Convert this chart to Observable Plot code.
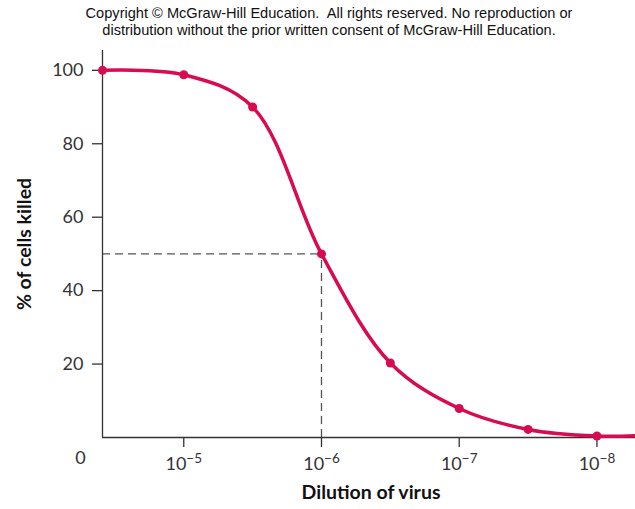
<!DOCTYPE html>
<html>
<head>
<meta charset="utf-8">
<script src="https://cdn.jsdelivr.net/npm/d3@7"></script>
<script src="https://cdn.jsdelivr.net/npm/@observablehq/plot@0.6"></script>
<style>
  html, body { margin: 0; padding: 0; background: #fff; }
  #wrap { position: relative; width: 635px; height: 509px; overflow: hidden; }
  #copy { position: absolute; left: 0; top: 5px; width: 658px; text-align: center;
          font-family: "Liberation Sans", Arial, sans-serif; font-size: 14.6px; line-height: 17px; color: #111; }
  #chart { position: absolute; left: 0; top: 0; }
</style>
</head>
<body>
<div id="wrap">
  <div id="chart"></div>
  <div id="copy">Copyright © McGraw-Hill Education.&nbsp; All rights reserved. No reproduction or<br>distribution without the prior written consent of McGraw-Hill Education.</div>
</div>
<script>
// Data
const dilution = [10 ** -4.41, 1e-5, 10 ** -5.5, 1e-6, 10 ** -6.5, 1e-7, 10 ** -7.5, 1e-8];
const percentKilled = [100, 98.8, 90, 50, 20.3, 7.9, 2.2, 0.4];
const curveEnd = { dilution: 10 ** -8.28, percent: 0.5 };
const xTicks = [1e-5, 1e-6, 1e-7, 1e-8];
const xTickExp = ["−5", "−6", "−7", "−8"];
const yTicks = [20, 40, 60, 80, 100];
const halfKill = { dilution: 1e-6, percent: 50 };

const xDomain = [10 ** -4.41, 10 ** -8.28];
const yDomain = [0, 105.4];
const red = "#d80b4f";
const ink = "#333";

const points = dilution.map((d, i) => ({ d, p: percentKilled[i] }));
const curvePts = [...points, { d: curveEnd.dilution, p: curveEnd.percent }];

const plot = Plot.plot({
  width: 635,
  height: 509,
  marginLeft: 102,
  marginRight: 0,
  marginTop: 50,
  marginBottom: 72,
  style: { fontFamily: "Lato, 'Open Sans', sans-serif", fontSize: "18px", color: ink, background: "transparent" },
  x: { type: "log", domain: xDomain, range: [102, 635] },
  y: { domain: yDomain },
  marks: [
    Plot.ruleY([halfKill.percent], { x1: xDomain[0], x2: halfKill.dilution, stroke: "#555", strokeWidth: 1.3, strokeDasharray: "8,5" }),
    Plot.ruleX([halfKill.dilution], { y1: 0, y2: halfKill.percent, stroke: "#555", strokeWidth: 1.3, strokeDasharray: "8,5" }),
    Plot.ruleX([xDomain[0]], { stroke: ink, strokeWidth: 1.3 }),
    Plot.ruleY([0], { stroke: ink, strokeWidth: 1.3 }),
    Plot.axisX({ ticks: xTicks, tickSize: 10, tickPadding: 10, tickFormat: d => "10", label: null, stroke: ink, strokeWidth: 1.3 }),
    Plot.axisY({ ticks: yTicks, tickSize: 10, tickPadding: 9, label: null, stroke: ink, strokeWidth: 1.3 }),
    Plot.text(["0"], { frameAnchor: "bottom-left", textAnchor: "middle", dx: -22, dy: 26, fontSize: 18 }),
    Plot.text(["% of cells killed"], { frameAnchor: "left", textAnchor: "middle", dx: -78, rotate: -90, fontWeight: "bold", fontSize: 19.5, fill: "#111" }),
    Plot.text(["Dilution of virus"], { frameAnchor: "bottom", textAnchor: "middle", dx: 2, dy: 61, fontWeight: "bold", fontSize: 19.5, fill: "#111" }),
    Plot.line(curvePts, { x: "d", y: "p", stroke: red, strokeWidth: 3.5, curve: "catmull-rom" }),
    Plot.dot(points, { x: "d", y: "p", r: 4.5, fill: red })
  ]
});
document.getElementById("chart").append(plot);

// superscript exponents on x tick labels
const labelGroup = plot.querySelector('g[aria-label="x-axis tick label"]');
if (labelGroup) {
  labelGroup.querySelectorAll("text").forEach((t, i) => {
    const ts = document.createElementNS("http://www.w3.org/2000/svg", "tspan");
    ts.setAttribute("dy", "-7");
    ts.setAttribute("font-size", "13.5");
    ts.textContent = xTickExp[i];
    t.appendChild(ts);
  });
}
</script>
</body>
</html>
